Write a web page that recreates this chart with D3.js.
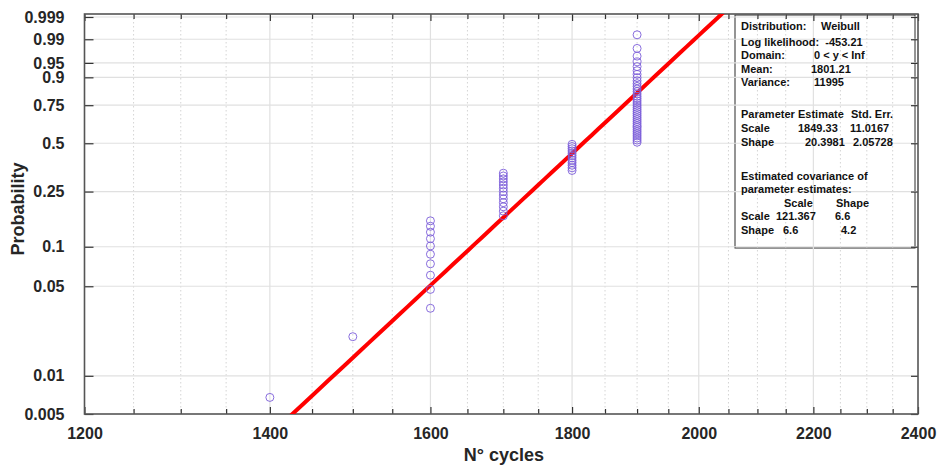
<!DOCTYPE html>
<html>
<head>
<meta charset="utf-8">
<script src="https://cdn.jsdelivr.net/npm/d3@7"></script>
<style>
  html, body { margin: 0; padding: 0; background: #fff; }
  svg { display: block; font-family: "Liberation Sans", Arial, Helvetica, sans-serif; }
  .summary text { white-space: pre; }
</style>
</head>
<body>
<svg id="chart" width="941" height="466"></svg>
<script>
// Observed failures: number of specimens failing at each cycle count
const cycleLevels   = [1400, 1500, 1600, 1700, 1800, 1900];
const failureCounts = [1, 1, 10, 13, 12, 37];

// Fitted Weibull parameters
const weibullScale = 1849.33;
const weibullShape = 20.3981;

// Axis ticks
const xMajorTicks = [1200, 1400, 1600, 1800, 2000, 2200, 2400];
const xMinorTicks = [1250, 1300, 1350, 1450, 1500, 1550, 1650, 1700, 1750, 1850, 1900, 1950,
                     2050, 2100, 2150, 2250, 2300, 2350];
const yTickLabels = [0.005, 0.01, 0.05, 0.1, 0.25, 0.5, 0.75, 0.9, 0.95, 0.99, 0.999];

// Fit summary lines: [text, x offset inside the box]
const summaryRows = [
  [["Distribution:", 0], ["Weibull", 80]],
  [["Log likelihood:  -453.21", 0]],
  [["Domain:", 0], ["0 < y < Inf", 73]],
  [["Mean:", 0], ["1801.21", 70]],
  [["Variance:", 0], ["11995", 73]],
  [["Parameter", 0], ["Estimate", 57], ["Std. Err.", 110]],
  [["Scale", 0], ["1849.33", 57], ["11.0167", 109]],
  [["Shape", 0], ["20.3981", 64], ["2.05728", 112]],
  [["Estimated covariance of", 0]],
  [["parameter estimates:", 0]],
  [["Scale", 43], ["Shape", 95]],
  [["Scale", 0], ["121.367", 35], ["6.6", 94]],
  [["Shape", 0], ["6.6", 42], ["4.2", 100]]
];
const summaryRowY = [26, 41.5, 55, 68.5, 82, 114, 128, 142, 175.5, 189, 202.5, 216, 229.5];

const svg = d3.select("#chart");
const plot = { left: 84.5, right: 918, top: 14, bottom: 414 };

// Weibull probability paper: y = ln(-ln(1 - p))
const wb = p => Math.log(-Math.log(1 - p));

const x = d3.scaleLog().domain([1200, 2400]).range([plot.left, plot.right]);
const y = d3.scaleLinear().domain([wb(0.005), wb(0.999)]).range([plot.bottom, 17]);

// Summary box (drawn first so the grid shows through)
const box = { x0: 735, y0: 15, x1: 915, y1: 248 };
svg.append("rect")
  .attr("x", box.x0).attr("y", box.y0)
  .attr("width", box.x1 - box.x0).attr("height", box.y1 - box.y0)
  .attr("fill", "#fff").attr("stroke", "#2a2a2a").attr("stroke-width", 1);

// Grid
const grid = svg.append("g");
grid.selectAll("line.xminor").data(xMinorTicks).join("line")
  .attr("x1", d => x(d)).attr("x2", d => x(d))
  .attr("y1", plot.top).attr("y2", plot.bottom)
  .attr("stroke", "#d4d4d4").attr("stroke-width", 1).attr("stroke-dasharray", "1.5,2.5");
grid.selectAll("line.xmajor").data(xMajorTicks.slice(1, -1)).join("line")
  .attr("x1", d => x(d)).attr("x2", d => x(d))
  .attr("y1", plot.top).attr("y2", plot.bottom)
  .attr("stroke", "#e0e0e0").attr("stroke-width", 1.2);
grid.selectAll("line.ymajor").data(yTickLabels.slice(1)).join("line")
  .attr("x1", plot.left).attr("x2", plot.right)
  .attr("y1", d => y(wb(d))).attr("y2", d => y(wb(d)))
  .attr("stroke", "#e0e0e0").attr("stroke-width", 1.2);

// Summary text
const txt = svg.append("g").attr("class", "summary")
  .attr("font-size", 11).attr("font-weight", "bold").attr("fill", "#111");
summaryRows.forEach((row, i) => {
  row.forEach(([s, dx]) => {
    txt.append("text").attr("x", box.x0 + 6 + dx).attr("y", summaryRowY[i] + 4).text(s);
  });
});

// Axes
const fmtY = d => {
  const p = 1 - Math.exp(-Math.exp(d));
  return String(+p.toPrecision(3));
};
const axisStyle = g => {
  g.select(".domain").remove();
  g.selectAll(".tick line").attr("stroke", "#333").attr("stroke-width", 1.2);
  g.selectAll(".tick text").attr("font-size", 16).attr("font-weight", "bold").attr("fill", "#262626");
};

svg.append("g").attr("transform", `translate(0,${plot.bottom})`)
  .call(d3.axisBottom(x).tickValues(xMajorTicks).tickFormat(d3.format("d")).tickSize(-7).tickPadding(14))
  .call(axisStyle);
svg.append("g").attr("transform", `translate(0,${plot.bottom})`)
  .call(d3.axisBottom(x).tickValues(xMinorTicks).tickFormat("").tickSize(-5))
  .call(axisStyle);
svg.append("g").attr("transform", `translate(0,${plot.top})`)
  .call(d3.axisTop(x).tickValues(xMajorTicks).tickFormat("").tickSize(-7))
  .call(axisStyle);
svg.append("g").attr("transform", `translate(0,${plot.top})`)
  .call(d3.axisTop(x).tickValues(xMinorTicks).tickFormat("").tickSize(-5))
  .call(axisStyle);

svg.append("g").attr("transform", `translate(${plot.left},0)`)
  .call(d3.axisLeft(y).tickValues(yTickLabels.map(wb)).tickFormat(fmtY).tickSize(-9).tickPadding(20))
  .call(axisStyle);
svg.append("g").attr("transform", `translate(${plot.right},0)`)
  .call(d3.axisRight(y).tickValues(yTickLabels.map(wb)).tickFormat("").tickSize(-7))
  .call(axisStyle);

// Frame
svg.append("rect")
  .attr("x", plot.left).attr("y", plot.top)
  .attr("width", plot.right - plot.left).attr("height", plot.bottom - plot.top)
  .attr("fill", "none").attr("stroke", "#555").attr("stroke-width", 1.6);

// Clip for the fitted line
svg.append("clipPath").attr("id", "plotClip").append("rect")
  .attr("x", plot.left).attr("y", plot.top)
  .attr("width", plot.right - plot.left).attr("height", plot.bottom - plot.top);

// Fitted Weibull CDF: straight line on Weibull paper
const fitX = d3.range(1380, 2101, 10);
const fitLine = d3.line()
  .x(d => x(d))
  .y(d => y(weibullShape * Math.log(d / weibullScale)));
svg.append("path")
  .datum(fitX)
  .attr("clip-path", "url(#plotClip)")
  .attr("d", fitLine)
  .attr("fill", "none").attr("stroke", "#ff0000").attr("stroke-width", 4);

// Empirical plotting positions (i - 0.5) / n
const observations = [];
cycleLevels.forEach((c, k) => { for (let j = 0; j < failureCounts[k]; j++) observations.push(c); });
const n = observations.length;
const points = observations.map((c, i) => ({ c, p: (i + 0.5) / n }));

svg.append("g").selectAll("circle").data(points).join("circle")
  .attr("cx", d => x(d.c)).attr("cy", d => y(wb(d.p)))
  .attr("r", 4)
  .attr("fill", "none").attr("stroke", "#7c5ed9").attr("stroke-width", 0.9);

// Axis titles
svg.append("text")
  .attr("x", 504).attr("y", 461)
  .attr("text-anchor", "middle")
  .attr("font-size", 18).attr("font-weight", "bold").attr("fill", "#262626")
  .text("N° cycles");
svg.append("text")
  .attr("transform", "translate(24,209) rotate(-90)")
  .attr("text-anchor", "middle")
  .attr("font-size", 18).attr("font-weight", "bold").attr("fill", "#262626")
  .text("Probability");
</script>
</body>
</html>
